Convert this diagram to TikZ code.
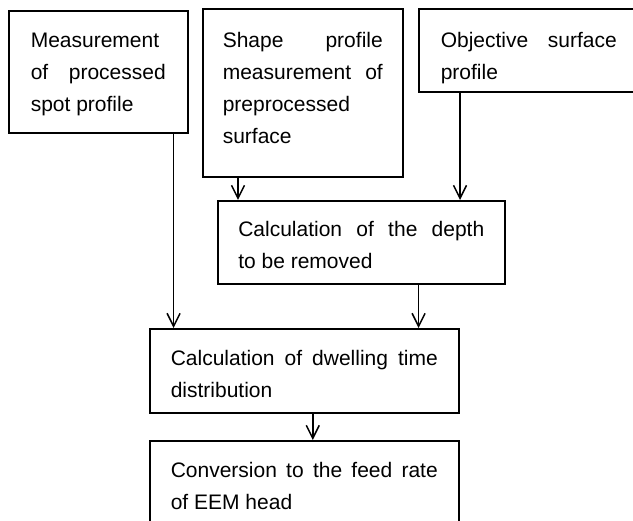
\documentclass[tikz,border=0pt]{standalone}
\usepackage{fontspec}
\setmainfont{Liberation Sans}
\usetikzlibrary{arrows.meta}

\tikzset{
	stepbox/.style={draw, line width=1.6pt, anchor=north west, align=justify, inner ysep=0pt,
		font=\fontsize{21}{31.75}\selectfont,
		execute at begin node={\hyphenpenalty=10000\relax\exhyphenpenalty=10000\relax}},
	flow/.style={line width=1.5pt, -{Straight Barb[length=13pt, width=13pt, line width=1.5pt]}}
}

\begin{document}
\begin{tikzpicture}[x=1pt, y=-1pt]
	\useasboundingbox (0,0) rectangle (633,521);

	% Define the boxes with specific positions
	\node[stepbox, text width=135pt, minimum width=179pt, text height=37pt, text depth=85pt] (spot) at (8, 10)
		{Measurement of processed spot profile};
	\node[stepbox, text width=160pt, minimum width=200pt, text height=39pt, text depth=129pt] (shape) at (202, 8)
		{Shape profile measurement of\linebreak preprocessed surface};
	\node[stepbox, text width=176pt, minimum width=220pt, text height=39pt, text depth=44pt] (objective) at (418, 8)
		{Objective surface profile};
	\node[stepbox, text width=246pt, minimum width=287pt, text height=36pt, text depth=47pt] (depth) at (217, 200)
		{Calculation of the depth\linebreak to be removed};
	\node[stepbox, text width=267pt, minimum width=309pt, text height=37pt, text depth=47pt] (dwell) at (149, 328)
		{Calculation of dwelling time distribution};
	\node[stepbox, text width=267pt, minimum width=309pt, text height=37pt, text depth=63pt] (feed) at (149, 440)
		{Conversion to the feed rate\linebreak of EEM head};

	% Draw the arrows between the boxes
	\draw[flow] ([xshift=36pt]shape.south west) -- ([xshift=36pt]shape.south west |- depth.north);
	\draw[flow] ([xshift=42pt]objective.south west) -- ([xshift=42pt]objective.south west |- depth.north);
	\draw[flow] ([xshift=-15pt]spot.south east) -- ([xshift=-15pt]spot.south east |- dwell.north);
	\draw[flow] ([xshift=-87pt]depth.south east) -- ([xshift=-87pt]depth.south east |- dwell.north);
	\draw[flow] ([xshift=8.5pt]dwell.south) -- ([xshift=8.5pt]dwell.south |- feed.north);
\end{tikzpicture}
\end{document}
